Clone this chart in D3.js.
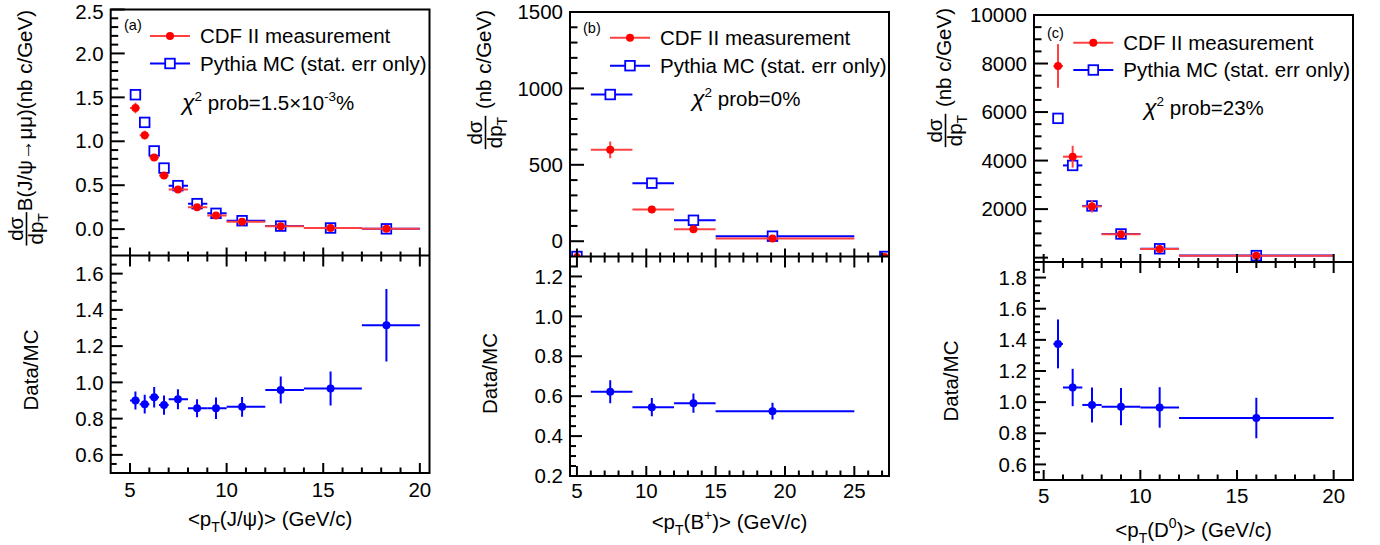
<!DOCTYPE html>
<html><head><meta charset="utf-8">
<script src="https://cdn.jsdelivr.net/npm/d3@7"></script>
<style>
body{margin:0;background:#fff}
text{font-family:"Liberation Sans",Arial,Helvetica,sans-serif;fill:#000}
</style>
</head><body>
<svg id="c" width="1380" height="545"></svg>
<script>
// ---------------- data ----------------
// (a) J/psi
const jpsiX      = [5.28, 5.76, 6.25, 6.76, 7.48, 8.47, 9.45, 10.8, 12.8, 15.38, 18.27];
const jpsiLo     = [5, 5.5, 6, 6.5, 7, 8, 9, 10, 12, 14, 17];
const jpsiHi     = [5.5, 6, 6.5, 7, 8, 9, 10, 12, 14, 17, 20];
const jpsiCdf    = [1.38, 1.07, 0.815, 0.61, 0.45, 0.25, 0.155, 0.083, 0.034, 0.013, 0.0045];
const jpsiCdfErr = [0.06, 0.05, 0.03, 0.03, 0.025, 0.018, 0.014, 0.008, 0.004, 0.002, 0.001];
const jpsiMc     = [1.53, 1.215, 0.89, 0.695, 0.495, 0.29, 0.18, 0.096, 0.035, 0.013, 0.0034];
const jpsiMcErr  = [0.012, 0.01, 0.008, 0.007, 0.005, 0.004, 0.003, 0.002, 0.001, 0.001, 0.0005];
const jpsiRatio    = [0.90, 0.88, 0.918, 0.875, 0.907, 0.857, 0.857, 0.865, 0.958, 0.966, 1.315];
const jpsiRatioErr = [0.05, 0.052, 0.057, 0.053, 0.055, 0.05, 0.059, 0.055, 0.075, 0.094, 0.2];

// (b) B+
const bX      = [7.4, 10.4, 13.4, 19.1];
const bLo     = [6, 9, 12, 15];
const bHi     = [9, 12, 15, 25];
const bCdf    = [598, 207, 78, 17];
const bCdfErr = [55, 15, 10, 5];
const bMc     = [960, 380, 137, 33];
const bMcErr  = [8, 5, 3, 1];
const bRatio    = [0.622, 0.545, 0.565, 0.525];
const bRatioErr = [0.058, 0.046, 0.048, 0.042];
const bEdgeX  = [5, 27.2];      // points sitting on the lower frame edge
const bEdgeY  = [-100, -100];

// (c) D0
const dX      = [5.74, 6.5, 7.5, 9, 11, 16];
const dLo     = [5.5, 6, 7, 8, 10, 12];
const dHi     = [6, 7, 8, 10, 12, 20];
const dCdf    = [7900, 4160, 2110, 963, 353, 75];
const dCdfErr = [900, 450, 250, 90, 50, 20];
const dMc     = [5740, 3800, 2130, 975, 365, 83];
const dMcErr  = [80, 60, 40, 20, 10, 4];
const dRatio    = [1.374, 1.094, 0.982, 0.971, 0.966, 0.898];
const dRatioErr = [0.157, 0.12, 0.112, 0.12, 0.13, 0.13];

// tick labels
const xTicksA = [5, 10, 15, 20];
const xTicksB = [5, 10, 15, 20, 25];
const xTicksC = [5, 10, 15, 20];
const yTicksTopA = [0, 0.5, 1, 1.5, 2, 2.5];
const yTicksTopB = [0, 500, 1000, 1500];
const yTicksTopC = [2000, 4000, 6000, 8000, 10000];
const yTicksRatA = [0.6, 0.8, 1.0, 1.2, 1.4, 1.6];
const yTicksRatB = [0.2, 0.4, 0.6, 0.8, 1.0, 1.2];
const yTicksRatC = [0.6, 0.8, 1.0, 1.2, 1.4, 1.6, 1.8];

const legendLabels = ["CDF II measurement", "Pythia MC (stat. err only)"];
const chiA = ["prob=1.5×10", "-3", "%"];
const chiB = ["prob=0%"];
const chiC = ["prob=23%"];

// ---------------- drawing ----------------
const RED = "#ff0000", REDL = "#ff4040", BLUE = "#0000ff";
const svg = d3.select("#c");
const FS = 20.5;

const panels = [
  { tag: "(a)", left: 110.7, right: 429.5, top: 9.5, mid: 255.5, bottom: 473,
    xDom: [4, 20.5], yTop: [-0.3, 2.5], yRat: [0.5, 1.7],
    xMajor: xTicksA, xMinorStep: 1, yTopMajor: yTicksTopA, yTopMinor: 0.1, yTopFmt: d3.format(".1f"),
    yRatMajor: yTicksRatA, yRatMinor: 0.05,
    x: jpsiX, lo: jpsiLo, hi: jpsiHi, cdf: jpsiCdf, cdfErr: jpsiCdfErr, mc: jpsiMc, mcErr: jpsiMcErr,
    ratio: jpsiRatio, ratioErr: jpsiRatioErr,
    tagPos: [124, 30], legX: 150, legY: [36, 63.5], chi: chiA, chiPos: [182, 110],
    yTitle: "B(J/ψ→μμ)(nb c/GeV)", yTitleX: 32, yTitleEnd: 10,
    dataMcX: 38, dataMcY: 370,
    xTitle: ["<p", "T", "(J/ψ)> (GeV/c)"], xTitleY: 526, xLabY: 497 },
  { tag: "(b)", left: 570, right: 889, top: 12, mid: 256.5, bottom: 476,
    xDom: [4.5, 27.5], yTop: [-100, 1500], yRat: [0.2, 1.3],
    xMajor: xTicksB, xMinorStep: 1, yTopMajor: yTicksTopB, yTopMinor: 100, yTopFmt: d3.format("d"),
    yRatMajor: yTicksRatB, yRatMinor: 0.05,
    x: bX, lo: bLo, hi: bHi, cdf: bCdf, cdfErr: bCdfErr, mc: bMc, mcErr: bMcErr,
    ratio: bRatio, ratioErr: bRatioErr, edgeX: bEdgeX, edgeY: bEdgeY,
    tagPos: [583, 33], legX: 610, legY: [37.7, 65.7], chi: chiB, chiPos: [692, 106],
    yTitle: " (nb c/GeV)", yTitleX: 491, yTitleEnd: 10,
    dataMcX: 497, dataMcY: 373.5,
    xTitle: ["<p", "T", "(B", "+", ")> (GeV/c)"], xTitleY: 529, xLabY: 498 },
  { tag: "(c)", left: 1034, right: 1353, top: 15, mid: 262, bottom: 480,
    xDom: [4.5, 21], yTop: [-180, 10000], yRat: [0.5, 1.9],
    xMajor: xTicksC, xMinorStep: 1, yTopMajor: [0].concat(yTicksTopC), yTopMinor: 500, yTopFmt: d => d === 0 ? "" : d3.format("d")(d),
    yRatMajor: yTicksRatC, yRatMinor: 0.05,
    x: dX, lo: dLo, hi: dHi, cdf: dCdf, cdfErr: dCdfErr, mc: dMc, mcErr: dMcErr,
    ratio: dRatio, ratioErr: dRatioErr,
    tagPos: [1047, 38], legX: 1073.3, legY: [42.7, 70], chi: chiC, chiPos: [1144, 115],
    yTitle: " (nb c/GeV)", yTitleX: 951, yTitleEnd: 8,
    dataMcX: 958, dataMcY: 381,
    xTitle: ["<p", "T", "(D", "0", ")> (GeV/c)"], xTitleY: 537, xLabY: 503 }
];

function minorTicks(dom, step, majors) {
  const out = [];
  const lo = Math.min(dom[0], dom[1]), hi = Math.max(dom[0], dom[1]);
  const start = Math.ceil(lo / step - 1e-9);
  for (let k = start; k * step <= hi + 1e-9; k++) {
    const v = +(k * step).toFixed(6);
    if (!majors.some(m => Math.abs(m - v) < 1e-6)) out.push(v);
  }
  return out;
}

panels.forEach((p, pi) => {
  const g = svg.append("g");
  const x = d3.scaleLinear().domain(p.xDom).range([p.left, p.right]);
  const yT = d3.scaleLinear().domain(p.yTop).range([p.mid, p.top]);
  const yR = d3.scaleLinear().domain(p.yRat).range([p.bottom, p.mid]);

  const defs = svg.append("defs");
  defs.append("clipPath").attr("id", "ct" + pi).append("rect")
    .attr("x", p.left).attr("y", p.top).attr("width", p.right - p.left).attr("height", p.mid - p.top);
  defs.append("clipPath").attr("id", "cr" + pi).append("rect")
    .attr("x", p.left).attr("y", p.mid).attr("width", p.right - p.left).attr("height", p.bottom - p.mid);

  const idx = d3.range(p.x.length);

  // ---- top pad data ----
  const gt = g.append("g").attr("clip-path", `url(#ct${pi})`);
  gt.selectAll(".mch").data(idx).join("line")
    .attr("x1", i => x(p.lo[i])).attr("x2", i => x(p.hi[i]))
    .attr("y1", i => yT(p.mc[i])).attr("y2", i => yT(p.mc[i]))
    .attr("stroke", BLUE).attr("stroke-width", 2);
  gt.selectAll(".mcv").data(idx).join("line")
    .attr("x1", i => x(p.x[i])).attr("x2", i => x(p.x[i]))
    .attr("y1", i => yT(p.mc[i] - p.mcErr[i])).attr("y2", i => yT(p.mc[i] + p.mcErr[i]))
    .attr("stroke", BLUE).attr("stroke-width", 2);
  gt.selectAll(".mcs").data(idx).join("rect")
    .attr("x", i => x(p.x[i]) - 4.8).attr("y", i => yT(p.mc[i]) - 4.8)
    .attr("width", 9.6).attr("height", 9.6)
    .attr("fill", "#fff").attr("stroke", BLUE).attr("stroke-width", 1.8);
  gt.selectAll(".cdh").data(idx).join("line")
    .attr("x1", i => x(p.lo[i])).attr("x2", i => x(p.hi[i]))
    .attr("y1", i => yT(p.cdf[i])).attr("y2", i => yT(p.cdf[i]))
    .attr("stroke", REDL).attr("stroke-width", 2);
  gt.selectAll(".cdv").data(idx).join("line")
    .attr("x1", i => x(p.x[i])).attr("x2", i => x(p.x[i]))
    .attr("y1", i => yT(p.cdf[i] - p.cdfErr[i])).attr("y2", i => yT(p.cdf[i] + p.cdfErr[i]))
    .attr("stroke", REDL).attr("stroke-width", 2);
  gt.selectAll(".cdc").data(idx).join("circle")
    .attr("cx", i => x(p.x[i])).attr("cy", i => yT(p.cdf[i])).attr("r", 4)
    .attr("fill", RED);
  if (p.edgeX) {
    p.edgeX.forEach((ex, k) => {
      gt.append("rect").attr("x", x(ex) - 4.8).attr("y", yT(p.edgeY[k]) - 4.8)
        .attr("width", 9.6).attr("height", 9.6).attr("fill", "#fff").attr("stroke", BLUE).attr("stroke-width", 1.8);
      gt.append("circle").attr("cx", x(ex)).attr("cy", yT(p.edgeY[k])).attr("r", 3.5).attr("fill", RED);
    });
  }

  // ---- ratio pad data ----
  const gr = g.append("g").attr("clip-path", `url(#cr${pi})`);
  gr.selectAll(".rh").data(idx).join("line")
    .attr("x1", i => x(p.lo[i])).attr("x2", i => x(p.hi[i]))
    .attr("y1", i => yR(p.ratio[i])).attr("y2", i => yR(p.ratio[i]))
    .attr("stroke", BLUE).attr("stroke-width", 2);
  gr.selectAll(".rv").data(idx).join("line")
    .attr("x1", i => x(p.x[i])).attr("x2", i => x(p.x[i]))
    .attr("y1", i => yR(p.ratio[i] - p.ratioErr[i])).attr("y2", i => yR(p.ratio[i] + p.ratioErr[i]))
    .attr("stroke", BLUE).attr("stroke-width", 2);
  gr.selectAll(".rc").data(idx).join("circle")
    .attr("cx", i => x(p.x[i])).attr("cy", i => yR(p.ratio[i])).attr("r", 4)
    .attr("fill", BLUE);

  // ---- frames ----
  g.append("rect").attr("x", p.left).attr("y", p.top).attr("width", p.right - p.left).attr("height", p.bottom - p.top)
    .attr("fill", "none").attr("stroke", "#000").attr("stroke-width", 2);
  g.append("line").attr("x1", p.left).attr("x2", p.right).attr("y1", p.mid).attr("y2", p.mid)
    .attr("stroke", "#000").attr("stroke-width", 2.2);

  const tk = g.append("g").attr("stroke", "#000").attr("stroke-width", 2);
  const xMin = minorTicks(p.xDom, p.xMinorStep, p.xMajor).filter(v => v > p.xDom[0] + 1e-6 && v < p.xDom[1] - 1e-6);
  p.xMajor.forEach(v => {
    tk.append("line").attr("x1", x(v)).attr("x2", x(v)).attr("y1", p.mid - 8).attr("y2", p.mid + 11);
    tk.append("line").attr("x1", x(v)).attr("x2", x(v)).attr("y1", p.bottom).attr("y2", p.bottom - 10);
  });
  xMin.forEach(v => {
    tk.append("line").attr("x1", x(v)).attr("x2", x(v)).attr("y1", p.mid - 4).attr("y2", p.mid + 6);
    tk.append("line").attr("x1", x(v)).attr("x2", x(v)).attr("y1", p.bottom).attr("y2", p.bottom - 5.5);
  });
  p.yTopMajor.forEach(v => {
    tk.append("line").attr("x1", p.left).attr("x2", p.left + 14).attr("y1", yT(v)).attr("y2", yT(v));
  });
  minorTicks(p.yTop, p.yTopMinor, p.yTopMajor).forEach(v => {
    const yy = yT(v);
    if (yy > p.top + 1 && yy < p.mid - 1)
      tk.append("line").attr("x1", p.left).attr("x2", p.left + 7.5).attr("y1", yy).attr("y2", yy);
  });
  p.yRatMajor.forEach(v => {
    tk.append("line").attr("x1", p.left).attr("x2", p.left + 12).attr("y1", yR(v)).attr("y2", yR(v));
  });
  minorTicks(p.yRat, p.yRatMinor, p.yRatMajor).forEach(v => {
    const yy = yR(v);
    if (yy > p.mid + 1 && yy < p.bottom - 1)
      tk.append("line").attr("x1", p.left).attr("x2", p.left + 6).attr("y1", yy).attr("y2", yy);
  });

  // tick labels
  p.xMajor.forEach(v => {
    g.append("text").attr("x", x(v)).attr("y", p.xLabY).attr("text-anchor", "middle")
      .attr("font-size", FS).text(v);
  });
  p.yTopMajor.forEach(v => {
    // keep the topmost label fully inside the picture
    const yy = Math.max(yT(v), 11.5);
    g.append("text").attr("x", p.left - 7).attr("y", yy).attr("dy", "0.35em").attr("text-anchor", "end")
      .attr("font-size", FS).text(p.yTopFmt(v));
  });
  p.yRatMajor.forEach(v => {
    g.append("text").attr("x", p.left - 7).attr("y", yR(v)).attr("dy", "0.35em").attr("text-anchor", "end")
      .attr("font-size", FS).text(d3.format(".1f")(v));
  });

  g.append("text").attr("x", p.tagPos[0]).attr("y", p.tagPos[1]).attr("font-size", 14.5).text(p.tag);

  // legend
  const lx0 = p.legX, lx1 = p.legX + 40, lxm = p.legX + 20;
  g.append("line").attr("x1", lx0).attr("x2", lx1).attr("y1", p.legY[0]).attr("y2", p.legY[0])
    .attr("stroke", REDL).attr("stroke-width", 2);
  g.append("circle").attr("cx", lxm).attr("cy", p.legY[0]).attr("r", 4).attr("fill", RED);
  g.append("line").attr("x1", lx0).attr("x2", lx1).attr("y1", p.legY[1]).attr("y2", p.legY[1])
    .attr("stroke", BLUE).attr("stroke-width", 2);
  g.append("rect").attr("x", lxm - 4.8).attr("y", p.legY[1] - 4.8).attr("width", 9.6).attr("height", 9.6)
    .attr("fill", "#fff").attr("stroke", BLUE).attr("stroke-width", 1.8);
  legendLabels.forEach((t, k) => {
    g.append("text").attr("x", lx1 + 10).attr("y", p.legY[k]).attr("dy", "0.35em")
      .attr("font-size", FS).text(t);
  });

  // chi2 text
  const ct = g.append("text").attr("x", p.chiPos[0]).attr("y", p.chiPos[1]).attr("font-size", FS);
  ct.append("tspan").attr("font-size", 23).attr("font-style", "italic").text("χ");
  ct.append("tspan").attr("font-size", 13.5).attr("dy", -9).text("2");
  ct.append("tspan").attr("dy", 9).text(" " + p.chi[0]);
  if (p.chi.length > 1) {
    ct.append("tspan").attr("font-size", 13.5).attr("dy", -9).text(p.chi[1]);
    ct.append("tspan").attr("dy", 9).text(p.chi[2]);
  }

  // y title (rotated) with fraction dσ/dpT
  const yt = g.append("g").attr("transform", `translate(${p.yTitleX},${p.yTitleEnd}) rotate(-90)`);
  const main = yt.append("text").attr("x", 0).attr("y", 0).attr("text-anchor", "end").attr("font-size", FS)
    .attr("xml:space", "preserve").text(p.yTitle);
  const L = main.node().getComputedTextLength();
  const fr = yt.append("g").attr("transform", `translate(${-L - 1},0)`);
  const num = fr.append("text").attr("x", 0).attr("y", -9).attr("text-anchor", "middle").attr("font-size", FS).text("dσ");
  const den = fr.append("text").attr("x", 0).attr("y", 11).attr("text-anchor", "middle").attr("font-size", FS);
  den.append("tspan").text("dp");
  den.append("tspan").attr("font-size", 14).attr("dy", 5).text("T");
  const nw = num.node().getComputedTextLength(), dw = den.node().getComputedTextLength();
  const fw = Math.max(nw, dw) + 2;
  num.attr("x", -fw / 2); den.attr("x", -fw / 2);
  fr.append("line").attr("x1", -fw).attr("x2", 0).attr("y1", -5.5).attr("y2", -5.5).attr("stroke", "#000").attr("stroke-width", 1.6);

  // Data/MC title
  g.append("text").attr("transform", `translate(${p.dataMcX},${p.dataMcY}) rotate(-90)`)
    .attr("text-anchor", "middle").attr("font-size", FS).text("Data/MC");

  // x title
  const xt = g.append("text").attr("x", (p.left + p.right) / 2).attr("y", p.xTitleY)
    .attr("text-anchor", "middle").attr("font-size", FS);
  xt.append("tspan").text(p.xTitle[0]);
  xt.append("tspan").attr("font-size", 14).attr("dy", 6).text(p.xTitle[1]);
  xt.append("tspan").attr("dy", -6).text(p.xTitle[2]);
  if (p.xTitle.length > 3) {
    xt.append("tspan").attr("font-size", 14).attr("dy", -9).text(p.xTitle[3]);
    xt.append("tspan").attr("dy", 9).text(p.xTitle[4]);
  }
});
</script>
</body></html>
